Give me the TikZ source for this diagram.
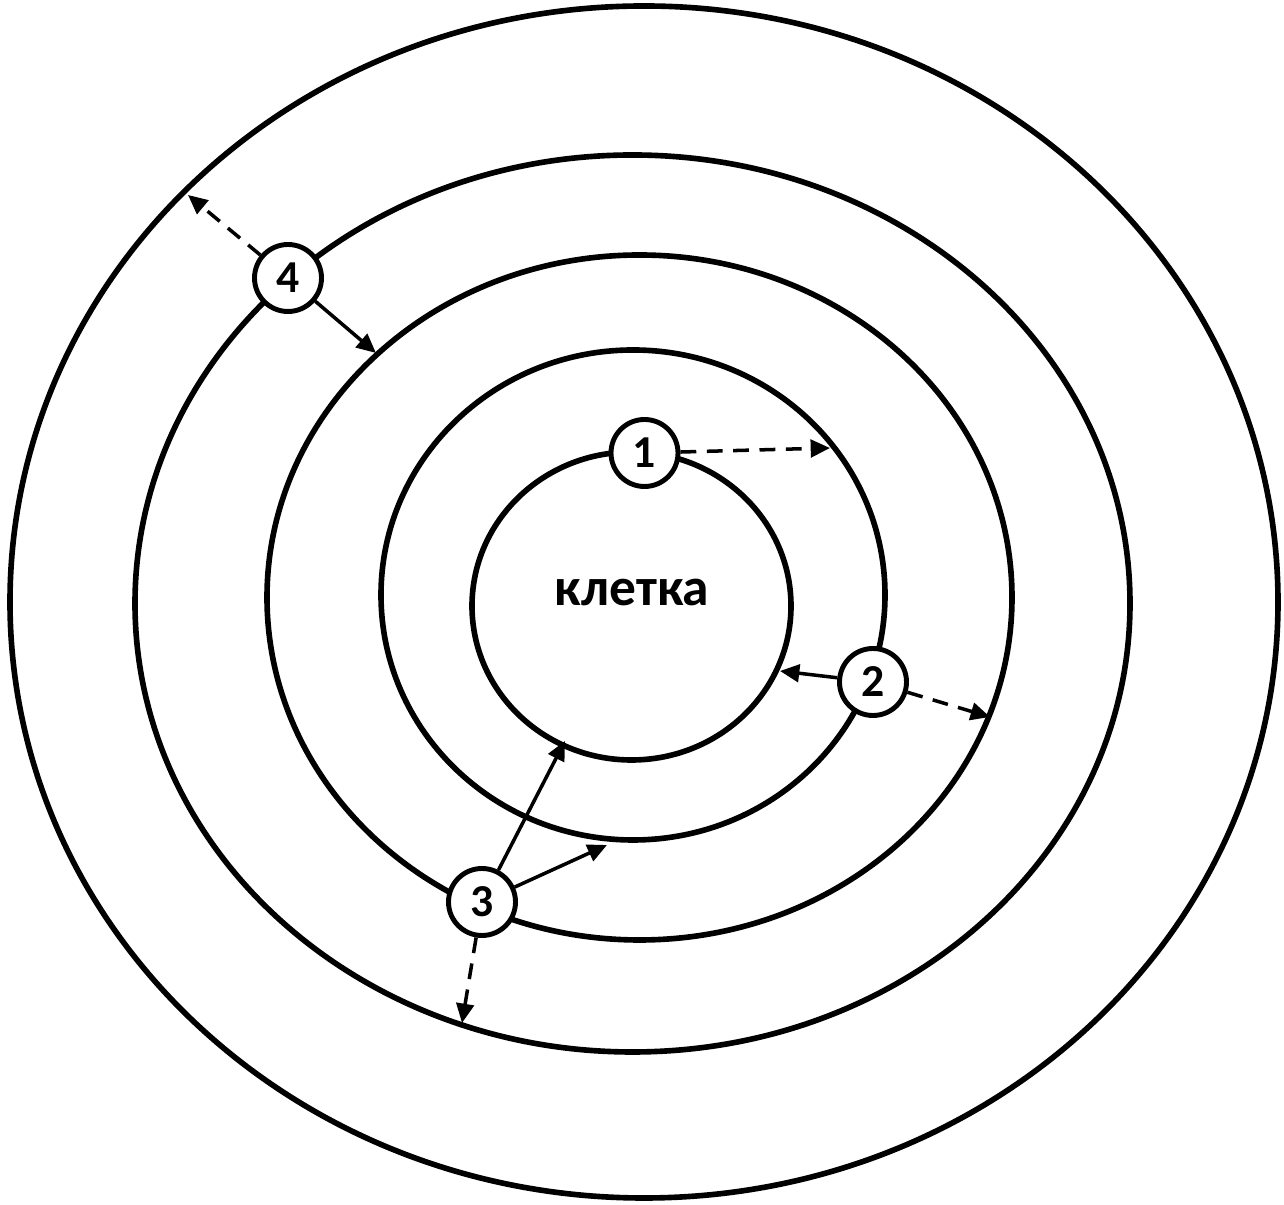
\documentclass[tikz,border=0pt]{standalone}
\usepackage{fontspec}
\setmainfont{Carlito}
\usetikzlibrary{arrows.meta}

\begin{document}
\begin{tikzpicture}[
  ring/.style={line width=1.6pt},
  num/.style={circle, draw, line width=1.4pt, fill=white, minimum size=0.67cm, inner sep=0pt, font=\bfseries\fontsize{13}{13}\selectfont},
  arr/.style={line width=1pt, -{Triangle[length=5.5pt, width=5pt]}},
  darr/.style={arr, dash pattern=on 4.5pt off 3pt}]
  \useasboundingbox (0,0) rectangle (12.84,-12.05);

  % rings
  \draw[ring] (6.44,-6.02) ellipse [x radius=6.34cm, y radius=5.96cm];
  \draw[ring] (6.325,-6.035) ellipse [x radius=4.975cm, y radius=4.485cm];
  \draw[ring] (6.395,-5.975) ellipse [x radius=3.725cm, y radius=3.425cm];
  \draw[ring] (6.33,-5.95) ellipse [x radius=2.52cm, y radius=2.45cm];
  \draw[ring] (6.315,-6.06) ellipse [x radius=1.595cm, y radius=1.54cm];
  \node (cell) at (6.32,-5.93) {\bfseries\fontsize{15.2}{15.2}\selectfont клетка};

  % numbered points
  \node[num] (n1) at (6.445,-4.53) {1};
  \node[num] (n2) at (8.73,-6.82) {2};
  \node[num] (n3) at (4.82,-9.02) {3};
  \node[num] (n4) at (2.88,-2.78) {4};

  % arrow ends on the rings
  \coordinate (t1) at (8.30,-4.48);
  \coordinate (t2a) at (7.80,-6.71);
  \coordinate (t2b) at (9.90,-7.17);
  \coordinate (t3a) at (5.65,-7.41);
  \coordinate (t3b) at (6.07,-8.45);
  \coordinate (t3c) at (4.62,-10.23);
  \coordinate (t4a) at (1.88,-1.95);
  \coordinate (t4b) at (3.76,-3.53);

  \draw[darr] (n1) -- (t1);
  \draw[arr] (n2) -- (t2a);
  \draw[darr] (n2) -- (t2b);
  \draw[arr] (n3) -- (t3a);
  \draw[arr] (n3) -- (t3b);
  \draw[darr] (n3) -- (t3c);
  \draw[darr] (n4) -- (t4a);
  \draw[arr] (n4) -- (t4b);
\end{tikzpicture}
\end{document}
